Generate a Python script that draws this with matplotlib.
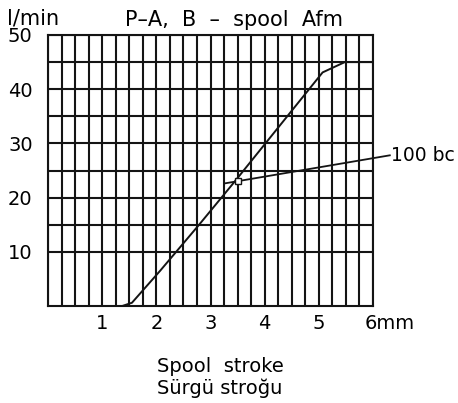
import numpy as np
import matplotlib
matplotlib.use('Agg')
import matplotlib.pyplot as plt

# ============ data ============
stroke_mm = [1.37, 1.55, 2.07, 2.79, 3.45, 5.07, 5.48, 6.0]
flow_lpm = [0.0, 0.6, 6.5, 15.0, 23.0, 43.1, 45.0, 45.0]

x_ticks = [1, 2, 3, 4, 5]
y_ticks = [10, 20, 30, 40, 50]
grid_x = np.arange(0, 6.01, 0.25)
grid_y = [10, 15, 20, 25, 30, 35, 40, 45, 50]

label_100bc = "100 bc"
leader_x = [6.31, 3.25]
leader_y = [27.8, 22.6]
marker_pt = (3.5, 23.0)

plt.rcParams['font.family'] = ['DejaVu Sans']
INK = '#141414'

fig = plt.figure(figsize=(4.58, 4.03), dpi=100)
ax = fig.add_axes([48 / 458, 1 - 306 / 403, 325 / 458, 271 / 403])
ax.set_xlim(0, 6)
ax.set_ylim(0, 50)

# grid
for gx in grid_x:
    ax.axvline(gx, color=INK, lw=1.5, zorder=1)
for gy in grid_y:
    ax.axhline(gy, color=INK, lw=1.5, zorder=1)
for s in ax.spines.values():
    s.set_linewidth(1.5)
    s.set_color(INK)

# curve
ax.plot(stroke_mm, flow_lpm, color=INK, lw=1.4, zorder=3)

# leader line + marker
ax.plot(leader_x, leader_y, color=INK, lw=1.3, clip_on=False, zorder=3)
ax.plot([marker_pt[0]], [marker_pt[1]], marker='s', ms=4, mfc='white',
        mec=INK, mew=1.0, zorder=4)
ax.text(6.33, 27.8, label_100bc, fontsize=13.5, ha='left', va='center')

ax.set_xticks(x_ticks)
ax.set_yticks(y_ticks)
ax.set_xticklabels([str(v) for v in x_ticks], fontsize=14)
ax.set_yticklabels([str(v) for v in y_ticks], fontsize=14)
ax.tick_params(axis='x', length=0, pad=6)
ax.tick_params(axis='y', length=0, pad=11)
ax.text(5.85, -3.2, "6mm", fontsize=14, ha='left', va='center')

fig.text(7 / 458, 1 - 24 / 403, "l/min", fontsize=15, ha='left', va='baseline')
fig.text(125 / 458, 1 - 26 / 403, "P\u2013A,  B  \u2013  spool  Afm", fontsize=15,
         ha='left', va='baseline')
fig.text(157 / 458, 1 - 372 / 403, "Spool  stroke", fontsize=14, ha='left', va='baseline')
fig.text(157 / 458, 1 - 394 / 403, "Sürgü stroğu", fontsize=14, ha='left', va='baseline')

fig.savefig("out.png", dpi=100)
